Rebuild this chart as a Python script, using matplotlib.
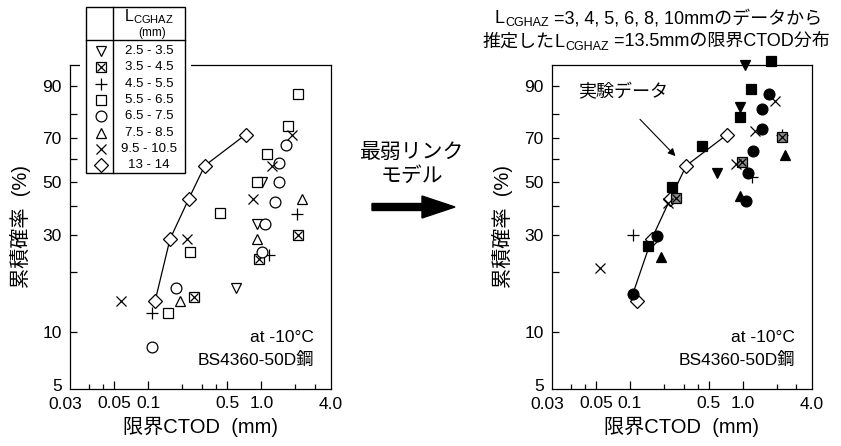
import numpy as np
import matplotlib
matplotlib.use("Agg")
import matplotlib.pyplot as plt
from matplotlib.patches import FancyArrow, Rectangle
from matplotlib.ticker import NullFormatter

plt.rcParams["font.family"] = ["Liberation Sans", "Noto Sans CJK JP"]
plt.rcParams["mathtext.fontset"] = "custom"
plt.rcParams["mathtext.rm"] = "Liberation Sans"
plt.rcParams["axes.unicode_minus"] = False

# ---- data: critical CTOD (mm) vs cumulative probability (%) ----
groups = ["2.5 - 3.5", "3.5 - 4.5", "4.5 - 5.5", "5.5 - 6.5",
          "6.5 - 7.5", "7.5 - 8.5", "9.5 - 10.5", "13 - 14"]

# left: experimental data per L_CGHAZ group
tri_dn_x = [0.594, 0.91, 1.01]
tri_dn_y = [16.7, 33.3, 50.0]
boxx_x = [0.253, 0.949, 2.09]
boxx_y = [15.0, 23.0, 30.0]
plus_x = [0.108, 1.16, 2.05]
plus_y = [12.5, 24.0, 37.0]
sq_x = [0.149, 0.233, 0.429, 0.91, 1.11, 1.71, 2.09]
sq_y = [12.5, 25.0, 37.5, 50.0, 62.5, 75.0, 87.5]
circ_x = [0.108, 0.176, 1.01, 1.07, 1.31, 1.42, 1.42, 1.64]
circ_y = [8.3, 16.7, 25.0, 33.3, 41.7, 50.0, 58.3, 66.7]
tri_up_x = [0.19, 0.91, 2.27]
tri_up_y = [14.3, 28.6, 42.9]
cross_x = [0.0575, 0.22, 0.84, 1.23, 1.85]
cross_y = [14.3, 28.6, 42.9, 57.1, 71.4]
dia_x = [0.115, 0.156, 0.229, 0.316, 0.728]
dia_y = [14.3, 28.6, 42.9, 57.1, 71.4]

# right: distributions estimated for L_CGHAZ = 13.5 mm
est_tri_dn_x = [0.594, 0.94, 1.04]
est_tri_dn_y = [54.0, 83.0, 95.0]
est_boxx_x = [0.254, 0.98, 2.24]
est_boxx_y = [43.0, 59.0, 70.5]
est_plus_x = [0.106, 1.2, 2.24]
est_plus_y = [30.0, 52.0, 71.0]
est_sq_x = [0.145, 0.234, 0.436, 0.94, 1.18, 1.79]
est_sq_y = [26.5, 47.6, 66.0, 79.0, 89.0, 95.7]
est_circ_x = [0.106, 0.175, 1.06, 1.11, 1.23, 1.48, 1.48, 1.71]
est_circ_y = [15.5, 29.5, 42.0, 54.0, 64.0, 74.0, 82.0, 87.5]
est_tri_up_x = [0.19, 0.94, 2.39]
est_tri_up_y = [23.6, 44.0, 62.0]
est_cross_x = [0.0548, 0.22, 0.88, 1.28, 1.94]
est_cross_y = [21.0, 41.0, 58.0, 73.0, 85.0]
est_line_x = [0.106, 0.156, 0.229, 0.316, 0.728]
est_line_y = [15.5, 28.6, 42.9, 57.1, 71.4]

x_major = [0.05, 0.1, 0.5, 1.0]
x_major_lab = ["0.05", "0.1", "0.5", "1.0"]
x_minor = [0.03, 0.04, 0.2, 0.3, 0.4, 2.0, 3.0]
y_major = [10, 30, 50, 70, 90]
y_minor = [20, 40, 60, 80]

W, H = 841, 446


# Weibull probability paper
def fwd(p):
    p = np.clip(np.asarray(p, dtype=float), 1e-6, 100 - 1e-6) / 100.0
    return np.log(-np.log(1.0 - p))


def inv(w):
    return 100.0 * (1.0 - np.exp(-np.exp(w)))


fig = plt.figure(figsize=(W / 100, H / 100), dpi=100)


def px_axes(x0, y0, x1, y1):
    return fig.add_axes([x0 / W, 1 - y1 / H, (x1 - x0) / W, (y1 - y0) / H])


MS = {"v": 7.5, "^": 7.5, "s": 6.8, "o": 7.8, "x": 6.5, "+": 8, "D": 6.8}


def mark(ax, x, y, m, filled=False):
    kw = dict(ls="none", mew=0.9, clip_on=False, zorder=3)
    if m == "boxx":
        ax.plot(x, y, marker="s", ms=6.8, mfc="#8c8c8c" if filled else "white",
                mec="black", **kw)
        ax.plot(x, y, marker="x", ms=5.2, mec="black", **kw)
    elif m in ("x", "+"):
        ax.plot(x, y, marker=m, ms=MS[m], mec="black", **kw)
    else:
        ax.plot(x, y, marker=m, ms=MS[m], mfc="black" if filled else "white",
                mec="black", **kw)


def setup(ax):
    ax.set_xscale("log")
    ax.set_yscale("function", functions=(fwd, inv))
    ax.set_xlim(0.0204, 4.12)
    ax.set_ylim(5, 95)
    ax.set_xticks(x_major, x_major_lab)
    ax.set_xticks(x_minor, minor=True)
    ax.xaxis.set_minor_formatter(NullFormatter())
    ax.set_yticks(y_major, [str(v) for v in y_major])
    ax.set_yticks(y_minor, minor=True)
    ax.yaxis.set_minor_formatter(NullFormatter())
    ax.tick_params(which="both", direction="in", top=False, right=False,
                   width=0.9, labelsize=12.5)
    ax.tick_params(axis="x", which="major", length=6, pad=5)
    ax.tick_params(axis="x", which="minor", length=3.5)
    ax.tick_params(axis="y", which="both", length=5, pad=6)
    for s in ax.spines.values():
        s.set_linewidth(0.9)
    # bottom "5" of the probability scale, set a little higher than the corner
    ax.annotate("5", xy=(0, 0), xycoords="axes fraction", xytext=(-6, 2),
                textcoords="offset points", ha="right", va="center",
                fontsize=12.5, annotation_clip=False)
    tr = ax.get_xaxis_transform()
    ax.text(0.0185, -0.026, "0.03", transform=tr, ha="center", va="top",
            fontsize=12.5, clip_on=False)
    ax.text(4.12, -0.026, "4.0", transform=tr, ha="center", va="top",
            fontsize=12.5, clip_on=False)
    ax.set_xlabel("限界CTOD  (mm)", fontsize=14.5, labelpad=4)
    ax.set_ylabel("累積確率  (%)", fontsize=14.5, labelpad=8)
    ax.text(0.935, 0.16, "at -10°C", transform=ax.transAxes, ha="right",
            va="center", fontsize=12.5)
    ax.text(0.935, 0.09, "BS4360-50D鋼", transform=ax.transAxes, ha="right",
            va="center", fontsize=12.5)


# ---- left panel ----
ax_l = px_axes(70, 65, 331, 389)
setup(ax_l)
ax_l.plot(dia_x, dia_y, color="black", lw=0.9, zorder=2)
mark(ax_l, tri_dn_x, tri_dn_y, "v")
mark(ax_l, boxx_x, boxx_y, "boxx")
mark(ax_l, plus_x, plus_y, "+")
mark(ax_l, sq_x, sq_y, "s")
mark(ax_l, circ_x, circ_y, "o")
mark(ax_l, tri_up_x, tri_up_y, "^")
mark(ax_l, cross_x, cross_y, "x")
mark(ax_l, dia_x, dia_y, "D")

# ---- right panel ----
ax_r = px_axes(552, 65, 812, 389)
setup(ax_r)
ax_r.plot(est_line_x, est_line_y, color="black", lw=0.9, zorder=2)
mark(ax_r, dia_x, dia_y, "D")
mark(ax_r, est_tri_dn_x, est_tri_dn_y, "v", True)
mark(ax_r, est_plus_x, est_plus_y, "+")
mark(ax_r, est_boxx_x, est_boxx_y, "boxx", True)
mark(ax_r, est_sq_x, est_sq_y, "s", True)
mark(ax_r, est_circ_x, est_circ_y, "o", True)
mark(ax_r, est_tri_up_x, est_tri_up_y, "^", True)
mark(ax_r, est_cross_x, est_cross_y, "x")
ax_r.text(0.0865, 88, "実験データ", ha="center", va="center", fontsize=13)
ax_r.annotate("", xy=(0.254, 61.5), xytext=(0.123, 78),
              arrowprops=dict(arrowstyle="-|>", color="black", lw=0.8,
                              mutation_scale=11, shrinkA=0, shrinkB=0))

# ---- legend table ----
leg = px_axes(80, 2, 191, 177)
leg.set_xlim(80, 191)
leg.set_ylim(177, 2)
leg.set_xticks([])
leg.set_yticks([])
for s in leg.spines.values():
    s.set_visible(False)
leg.add_patch(Rectangle((86, 7), 99, 166, fill=False, lw=1.0, ec="black"))
leg.plot([113, 113], [7, 173], color="black", lw=1.0)
leg.plot([86, 185], [40, 40], color="black", lw=1.0)
leg.text(149, 17, r"L$_{\mathregular{CGHAZ}}$", ha="center", va="center",
         fontsize=11.5)
leg.text(152, 33, "(mm)", ha="center", va="center", fontsize=8.5)
leg_marks = ["v", "boxx", "+", "s", "o", "^", "x", "D"]
for i, (m, g) in enumerate(zip(leg_marks, groups)):
    yy = 51 + i * 16.3
    mark(leg, [101], [yy], m)
    leg.text(149, yy, g, ha="center", va="center", fontsize=9.5)

# ---- middle: weakest link model arrow ----
fig.text(412 / W, 1 - 152 / H, "最弱リンク", ha="center", va="center", fontsize=15)
fig.text(412 / W, 1 - 176 / H, "モデル", ha="center", va="center", fontsize=15)
fig.add_artist(FancyArrow(372 / W, 1 - 207 / H, 83 / W, 0, width=7 / H,
                          head_width=22 / H, head_length=33 / W,
                          length_includes_head=True, transform=fig.transFigure,
                          color="black"))


# ---- title on the right, with subscripts ----
def chain(pieces, x0, yb):
    prev = None
    for txt, size, dy in pieces:
        if prev is None:
            t = ax_r.annotate(txt, xy=(x0 / W, 1 - yb / H), xycoords="figure fraction",
                              xytext=(0, dy), textcoords="offset points",
                              ha="left", va="baseline", fontsize=size,
                              annotation_clip=False)
        else:
            t = ax_r.annotate(txt, xy=(1, 1 - yb / H), xycoords=(prev, "figure fraction"),
                              xytext=(0, dy), textcoords="offset points",
                              ha="left", va="baseline", fontsize=size,
                              annotation_clip=False)
        prev = t


chain([("L", 13, 0), ("CGHAZ", 9, -2.5), (" =3, 4, 5, 6, 8, 10mmのデータから", 13, 0)],
      495, 23)
chain([("推定した", 13, 0), ("L", 13, 0), ("CGHAZ", 9, -2.5),
       (" =13.5mmの限界CTOD分布", 13, 0)], 483, 47)

fig.savefig("out.png", dpi=100)
